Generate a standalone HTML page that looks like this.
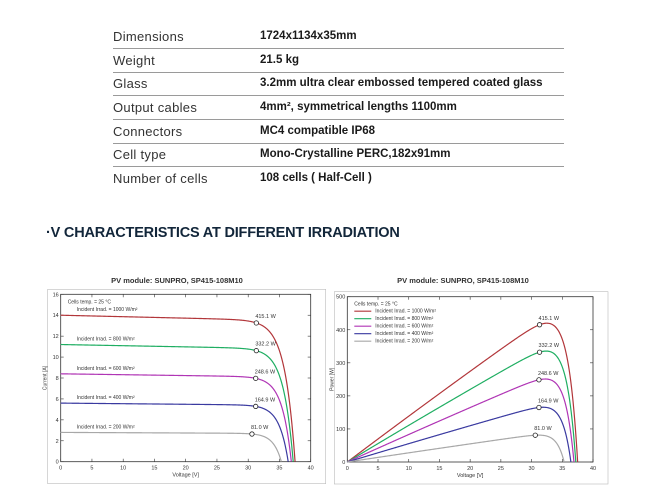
<!DOCTYPE html>
<html><head><meta charset="utf-8"><style>
body{margin:0;width:659px;height:500px;background:#fff;overflow:hidden;font-family:"Liberation Sans",sans-serif;position:relative}
.row{position:absolute;left:113px;width:451px;height:23px;border-bottom:1.5px solid #9a9a9a;font-size:13px;color:#333;white-space:nowrap}
.row.last{border-bottom:none}
.row .k{position:absolute;left:0;top:4px;letter-spacing:0.3px}
.row .v{position:absolute;left:147px;top:5px;font-weight:bold;color:#1a1a1a;font-size:11.5px}
h2{position:absolute;left:46px;top:225px;margin:0;font-size:14.5px;font-weight:bold;color:#12263a;letter-spacing:-0.2px}
svg{position:absolute;left:0;top:0}
</style></head><body>
<div>
<div class="row" style="top:25px"><span class="k">Dimensions</span><span class="v">1724x1134x35mm</span></div>
<div class="row" style="top:49px"><span class="k">Weight</span><span class="v">21.5 kg</span></div>
<div class="row" style="top:72px"><span class="k">Glass</span><span class="v">3.2mm ultra clear embossed tempered coated glass</span></div>
<div class="row" style="top:96px"><span class="k">Output cables</span><span class="v">4mm², symmetrical lengths 1100mm</span></div>
<div class="row" style="top:120px"><span class="k">Connectors</span><span class="v">MC4 compatible IP68</span></div>
<div class="row" style="top:143px"><span class="k">Cell type</span><span class="v">Mono-Crystalline PERC,182x91mm</span></div>
<div class="row last" style="top:167px"><span class="k">Number of cells</span><span class="v">108 cells ( Half-Cell )</span></div>
</div>
<h2>·V CHARACTERISTICS AT DIFFERENT IRRADIATION</h2>
<svg id="chart" width="659" height="500"></svg>
<script>
const irrad=[1000,800,600,400,200];
const isc=[14.0,11.2,8.4,5.6,2.8];
const voc=[37.5,37.2,36.9,36.4,35.3];
const vmp=[31.3,31.3,31.2,31.2,30.6];
const pmp=[415.1,332.2,248.6,164.9,81.0];
const pmpLabels=["415.1 W","332.2 W","248.6 W","164.9 W","81.0 W"];
const xTicks=[0,5,10,15,20,25,30,35,40];
const iTicks=[0,2,4,6,8,10,12,14,16];
const pTicks=[0,100,200,300,400,500];
const colors=["#b2363a","#1fae62","#b035b5","#3a3aa0","#a8a8a8"];
const NS="http://www.w3.org/2000/svg";
const svg=document.getElementById('chart');
function mk(t,a,p){const e=document.createElementNS(NS,t);for(const k in a)e.setAttribute(k,a[k]);(p||svg).appendChild(e);return e;}
const k1=0.001;
function curveI(i,V,vt){const C=isc[i]*(1-k1*voc[i])/(Math.exp(voc[i]/vt)-1);return isc[i]*(1-k1*V)-C*(Math.exp(V/vt)-1);}
function fitVt(i){let lo=0.3,hi=6;const target=pmp[i]/vmp[i];for(let n=0;n<60;n++){const m=(lo+hi)/2;if(curveI(i,vmp[i],m)<target)hi=m;else lo=m;}return (lo+hi)/2;}
const vts=isc.map((_,i)=>fitVt(i));
function drawChart(cfg){
  const {x0,x1,y0,y1,ymax,ticks,power,title,tx,ylabel,g}=cfg;
  const X=v=>x0+(x1-x0)*v/40, Y=v=>y0-(y0-y1)*v/ymax;
  let t=mk('text',{x:tx,y:283,'font-size':7.5,'font-weight':'bold','text-anchor':'middle',fill:'#333'},g);t.textContent=title;
  mk('rect',{x:x0-13,y:y1-5,width:x1-x0+28,height:y0-y1+27,fill:'none',stroke:'#bbb','stroke-width':0.6},g);
  mk('rect',{x:x0,y:y1,width:x1-x0,height:y0-y1,fill:'#fff',stroke:'#333','stroke-width':0.8},g);
  xTicks.forEach(v=>{mk('line',{x1:X(v),x2:X(v),y1:y0,y2:y0-3,stroke:'#333','stroke-width':0.6},g);mk('line',{x1:X(v),x2:X(v),y1:y1,y2:y1+3,stroke:'#333','stroke-width':0.6},g);
    const l=mk('text',{x:X(v),y:y0+8,'font-size':5.5,'text-anchor':'middle',fill:'#333'},g);l.textContent=v;});
  ticks.forEach(v=>{mk('line',{x1:x0,x2:x0+3,y1:Y(v),y2:Y(v),stroke:'#333','stroke-width':0.6},g);mk('line',{x1:x1,x2:x1-3,y1:Y(v),y2:Y(v),stroke:'#333','stroke-width':0.6},g);
    const l=mk('text',{x:x0-2,y:Y(v)+2,'font-size':5.5,'text-anchor':'end',fill:'#333'},g);l.textContent=v;});
  let xl=mk('text',{x:(x0+x1)/2,y:y0+15,'font-size':5.5,'text-anchor':'middle',fill:'#333'},g);xl.textContent='Voltage [V]';
  let yl=mk('text',{x:x0-14,y:(y0+y1)/2,'font-size':5,'text-anchor':'middle',fill:'#333',transform:`rotate(-90 ${x0-14} ${(y0+y1)/2})`},g);yl.textContent=ylabel;
  let ct=mk('text',{x:x0+7,y:y1+9,'font-size':5,fill:'#333'},g);ct.textContent='Cells temp. = 25 °C';
  irrad.forEach((ir,i)=>{
    let pts=[];for(let s=0;s<=300;s++){const V=voc[i]*s/300;const I=Math.max(0,curveI(i,V,vts[i]));pts.push(X(V).toFixed(2)+','+Y(power?V*I:I).toFixed(2));}
    const pl=mk('polyline',{points:pts.join(' '),fill:'none',stroke:colors[i],'stroke-width':1.2},g);
    
    
    const my=power?pmp[i]:pmp[i]/vmp[i];
    const c=mk('circle',{cx:X(vmp[i]),cy:Y(my),r:2.2,fill:'#fff',stroke:'#222','stroke-width':0.8},g);
    
    
    const pt=mk('text',{x:X(vmp[i])-1,y:Y(my)-5,'font-size':5.5,fill:'#333'},g);pt.textContent=pmpLabels[i];
    if(!power){const lt=mk('text',{x:x0+16,y:Y(isc[i])-4,'font-size':5,fill:'#333'},g);lt.textContent='Incident Irrad. = '+ir+' W/m²';}
    else{const ly=y1+16+i*7.5;mk('line',{x1:x0+7,x2:x0+24,y1:ly-1.5,y2:ly-1.5,stroke:colors[i],'stroke-width':1.2},g);
      const lt=mk('text',{x:x0+28,y:ly,'font-size':5,fill:'#333'},g);lt.textContent='Incident Irrad. = '+ir+' W/m²';}
  });
}
const g1=mk('g',{});
drawChart({x0:60.7,x1:310.7,y0:461.7,y1:294.3,ymax:16,ticks:iTicks,power:false,title:'PV module:  SUNPRO,  SP415-108M10',tx:177,ylabel:'Current [A]',g:g1});
const g2=mk('g',{});
drawChart({x0:347.3,x1:593,y0:462,y1:296.7,ymax:500,ticks:pTicks,power:true,title:'PV module:  SUNPRO,  SP415-108M10',tx:463,ylabel:'Power [W]',g:g2});
</script>
</body></html>
